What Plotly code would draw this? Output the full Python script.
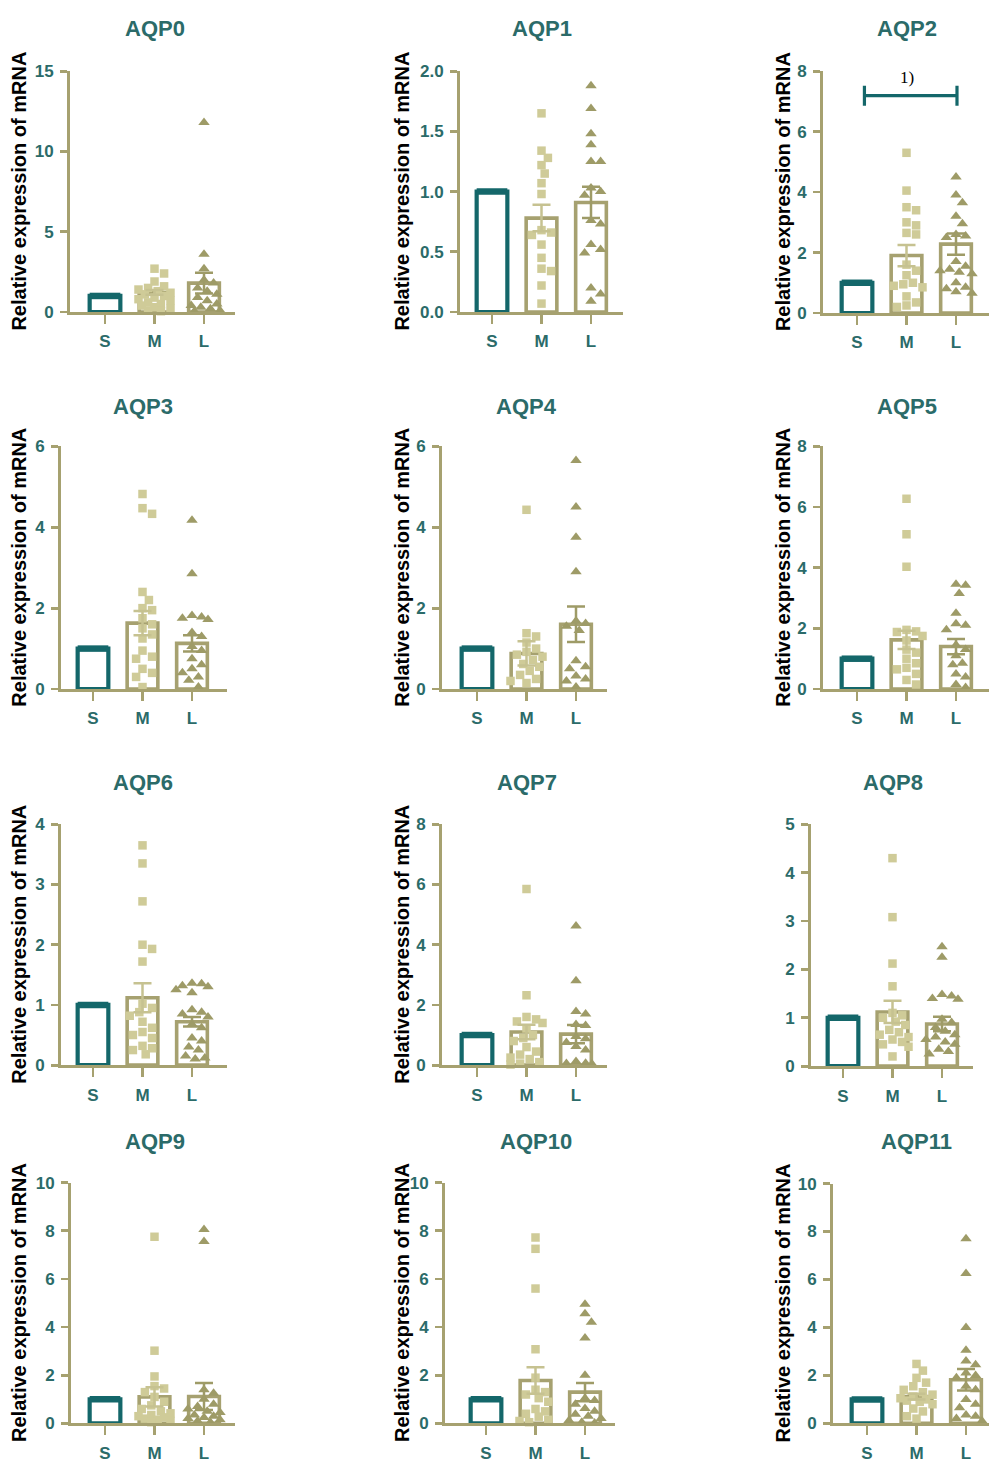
import plotly.graph_objects as go

# ---------------- data ----------------
genes = ["AQP0", "AQP1", "AQP2", "AQP3", "AQP4", "AQP5",
         "AQP6", "AQP7", "AQP8", "AQP9", "AQP10", "AQP11"]
categories = ["S", "M", "L"]
y_max = [15, 2, 8, 6, 6, 8, 4, 8, 5, 10, 10, 10]
y_dtick = [5, 0.5, 2, 2, 2, 2, 1, 2, 1, 2, 2, 2]
y_tickformat = ["d", ".1f", "d", "d", "d", "d", "d", "d", "d", "d", "d", "d"]
show_ytitle = [True, True, True, True, True, True, True, True, False, True, True, True]

s_mean = [1.0, 1.0, 1.0, 1.0, 1.0, 1.0, 1.0, 1.0, 1.0, 1.0, 1.0, 1.0]
m_mean = [1.22, 0.78, 1.9, 1.63, 0.88, 1.62, 1.12, 1.1, 1.12, 1.1, 1.78, 1.12]
m_sem = [0.15, 0.11, 0.35, 0.3, 0.3, 0.3, 0.24, 0.24, 0.23, 0.4, 0.55, 0.12]
l_mean = [1.8, 0.91, 2.28, 1.13, 1.6, 1.4, 0.72, 1.03, 0.87, 1.12, 1.3, 1.82]
l_sem = [0.65, 0.13, 0.35, 0.2, 0.44, 0.25, 0.08, 0.3, 0.15, 0.56, 0.38, 0.45]

aqp0_m = [2.7, 2.4, 1.9, 1.6, 1.5, 1.4, 1.3, 1.2, 1.1, 1.0, 0.9, 0.8, 0.7, 0.6, 0.5, 0.4, 0.3, 0.2, 0.1, 0.05]
aqp0_l = [11.8, 3.6, 2.7, 2.0, 1.8, 1.5, 1.3, 1.1, 0.9, 0.7, 0.5, 0.4, 0.3, 0.2, 0.1, 0.05]
aqp1_m = [1.65, 1.34, 1.28, 1.22, 1.15, 1.07, 0.98, 0.68, 0.66, 0.64, 0.56, 0.45, 0.36, 0.34, 0.22, 0.07]
aqp1_l = [1.88, 1.69, 1.48, 1.39, 1.25, 1.25, 1.03, 1.0, 0.97, 0.76, 0.73, 0.56, 0.52, 0.49, 0.2, 0.15, 0.09]
aqp2_m = [5.3, 4.05, 3.5, 3.4, 3.0, 2.9, 2.65, 2.6, 1.6, 1.4, 1.25, 1.0, 0.95, 0.9, 0.85, 0.55, 0.35, 0.25, 0.2]
aqp2_l = [4.5, 3.9, 3.65, 3.2, 2.95, 2.6, 2.55, 2.5, 1.7, 1.55, 1.45, 1.4, 1.35, 1.3, 1.0, 0.85, 0.8, 0.7, 0.65]
aqp3_m = [4.82, 4.47, 4.33, 2.4, 2.2, 2.0, 1.95, 1.75, 1.6, 1.5, 1.35, 1.25, 0.95, 0.8, 0.75, 0.5, 0.4, 0.3, 0.05]
aqp3_l = [4.17, 2.85, 1.82, 1.78, 1.75, 1.72, 1.4, 1.3, 1.05, 0.95, 0.75, 0.6, 0.5, 0.4, 0.3, 0.22, 0.05]
aqp4_m = [4.43, 1.38, 1.3, 1.15, 1.0, 0.92, 0.85, 0.8, 0.72, 0.62, 0.55, 0.45, 0.35, 0.25, 0.2, 0.15]
aqp4_l = [5.65, 4.5, 3.75, 2.9, 1.68, 1.62, 1.55, 1.45, 0.7, 0.55, 0.5, 0.32, 0.25, 0.2, 0.05]
aqp5_m = [6.27, 5.1, 4.03, 1.95, 1.9, 1.88, 1.75, 1.6, 1.3, 1.2, 1.0, 0.85, 0.7, 0.65, 0.5, 0.3, 0.15]
aqp5_l = [3.45, 3.42, 3.15, 2.5, 2.15, 2.1, 1.95, 1.45, 1.3, 1.1, 0.85, 0.8, 0.5, 0.4, 0.15, 0.05]
aqp6_m = [3.65, 3.35, 2.72, 2.0, 1.93, 1.72, 1.02, 0.95, 0.88, 0.82, 0.72, 0.62, 0.55, 0.5, 0.45, 0.32, 0.28, 0.25, 0.18]
aqp6_l = [1.36, 1.35, 1.32, 1.3, 1.25, 1.2, 0.92, 0.88, 0.85, 0.8, 0.68, 0.62, 0.45, 0.4, 0.3, 0.25, 0.15, 0.12, 0.1]
aqp7_m = [5.85, 2.32, 1.6, 1.52, 1.45, 1.4, 1.22, 1.0, 0.9, 0.8, 0.6, 0.45, 0.35, 0.25, 0.2, 0.1, 0.05, 0.02]
aqp7_l = [4.62, 2.8, 1.78, 1.7, 1.35, 1.32, 0.95, 0.88, 0.75, 0.62, 0.5, 0.12, 0.06, 0.05, 0.04]
aqp8_m = [4.3, 3.08, 2.12, 1.65, 1.1, 1.05, 1.0, 0.92, 0.85, 0.75, 0.7, 0.65, 0.6, 0.55, 0.5, 0.45, 0.4, 0.2]
aqp8_l = [2.47, 2.25, 1.48, 1.45, 1.4, 1.38, 0.97, 0.9, 0.8, 0.72, 0.65, 0.6, 0.55, 0.5, 0.45, 0.35, 0.3, 0.25]
aqp9_m = [7.75, 3.02, 1.95, 1.55, 1.45, 1.3, 1.1, 0.9, 0.75, 0.6, 0.5, 0.42, 0.35, 0.3, 0.25, 0.2, 0.15, 0.1, 0.05]
aqp9_l = [8.05, 7.55, 1.4, 1.25, 1.0, 0.8, 0.7, 0.6, 0.5, 0.45, 0.35, 0.3, 0.25, 0.2, 0.15, 0.1, 0.05]
aqp10_m = [7.72, 7.25, 5.6, 3.08, 1.9, 1.4, 1.3, 1.2, 1.05, 0.9, 0.6, 0.5, 0.4, 0.28, 0.15, 0.1, 0.05]
aqp10_l = [4.95, 4.55, 4.2, 3.55, 2.0, 1.05, 0.95, 0.8, 0.62, 0.5, 0.38, 0.3, 0.2, 0.12, 0.05, 0.02]
aqp11_m = [2.48, 2.2, 1.9, 1.7, 1.55, 1.4, 1.3, 1.2, 1.12, 1.05, 1.0, 0.95, 0.9, 0.8, 0.62, 0.5, 0.3, 0.2]
aqp11_l = [7.7, 6.25, 4.0, 3.05, 2.6, 2.45, 2.1, 2.0, 1.9, 1.55, 1.4, 1.0, 0.8, 0.65, 0.35, 0.3, 0.2, 0.1]

m_points = [aqp0_m, aqp1_m, aqp2_m, aqp3_m, aqp4_m, aqp5_m, aqp6_m, aqp7_m, aqp8_m, aqp9_m, aqp10_m, aqp11_m]
l_points = [aqp0_l, aqp1_l, aqp2_l, aqp3_l, aqp4_l, aqp5_l, aqp6_l, aqp7_l, aqp8_l, aqp9_l, aqp10_l, aqp11_l]

# significance bracket on AQP2 (S vs L)
sig_panel = 2
sig_from = 0.15
sig_to = 2.02
sig_level = 7.19
sig_cap = 0.33
sig_label = "1)"
sig_label_y = 7.8

# ---------------- layout (pixels) ----------------
W, H = 989, 1465
ax_x0 = [70, 460, 823, 61, 442, 823, 61, 442, 811, 71, 445, 833]
ax_x1 = [235, 623, 989, 227, 607, 989, 227, 607, 973, 235, 615, 989]
cat_s = [105, 492, 857, 93, 477, 857, 93, 477, 843, 105, 486, 867]
ax_top = [63, 63, 63, 443, 443, 443, 826, 826, 826, 1189, 1189, 1190]
ax_zero = [307, 307, 308, 689, 689, 689, 1070, 1070, 1071, 1433, 1433, 1433]
title_y = [20, 20, 20, 403, 403, 403, 784, 784, 784, 1147, 1147, 1147]
ytitle_x = [19, 402, 783, 19, 402, 783, 19, 402, 783, 19, 402, 783]
cat_px = 49.5

TEAL = "#14676a"
TEXT_TEAL = "#2b6b69"
OLIVE = "#a6a170"
M_COL = "#cfcb98"
L_COL = "#9e9b67"
M_ERR = "#c6c291"
L_ERR = "#9e9b67"
FONT = "Liberation Sans, Arial, sans-serif"
BAR_W = 0.62


def swarm(values, py_unit, diam, step=3.2, max_off=16.0):
    placed = []
    offs = []
    ks = [0]
    for k in range(1, 12):
        ks += [k, -k]
    for v in values:
        yp = v * py_unit
        chosen = None
        best_d, best_x = -1, 0.0
        for k in ks:
            xo = k * step
            if abs(xo) > max_off:
                continue
            dmin = min([((xo - a) ** 2 + (yp - b) ** 2) ** 0.5 for a, b in placed] + [1e9])
            if dmin >= diam:
                chosen = xo
                break
            if dmin > best_d:
                best_d, best_x = dmin, xo
        if chosen is None:
            chosen = best_x
        placed.append((chosen, yp))
        offs.append(chosen / cat_px)
    return offs


fig = go.Figure()
layout_axes = {}
annotations = []
shapes = []

for i, g in enumerate(genes):
    n = i + 1
    xa = "x" if n == 1 else f"x{n}"
    ya = "y" if n == 1 else f"y{n}"
    xkey = "xaxis" if n == 1 else f"xaxis{n}"
    ykey = "yaxis" if n == 1 else f"yaxis{n}"

    plot_h = ax_zero[i] - ax_top[i]
    py_unit = plot_h / y_max[i]

    # bars
    fig.add_trace(go.Bar(
        x=[0, 1, 2], y=[s_mean[i], m_mean[i], l_mean[i]], width=BAR_W,
        marker=dict(color="white", line=dict(color=[TEAL, OLIVE, OLIVE], width=[4.2, 3.6, 3.6])),
        xaxis=xa, yaxis=ya, showlegend=False, hoverinfo="skip"))
    # thicker top edge of S bar
    fig.add_trace(go.Scatter(
        x=[-BAR_W / 2, BAR_W / 2], y=[s_mean[i], s_mean[i]], mode="lines",
        line=dict(color=TEAL, width=6.5), xaxis=xa, yaxis=ya,
        showlegend=False, hoverinfo="skip", cliponaxis=False))

    # points
    mo = swarm(m_points[i], py_unit, 9.0)
    lo = swarm(l_points[i], py_unit, 9.5)
    fig.add_trace(go.Scatter(
        x=[1 + o for o in mo], y=m_points[i], mode="markers",
        marker=dict(symbol="square", size=8.5, color=M_COL),
        xaxis=xa, yaxis=ya, showlegend=False, cliponaxis=False))
    fig.add_trace(go.Scatter(
        x=[2 + o for o in lo], y=l_points[i], mode="markers",
        marker=dict(symbol="triangle-up", size=10, color=L_COL),
        xaxis=xa, yaxis=ya, showlegend=False, cliponaxis=False))

    # error bars
    for xc, mu, se, col in ((1, m_mean[i], m_sem[i], M_ERR), (2, l_mean[i], l_sem[i], L_ERR)):
        fig.add_trace(go.Scatter(
            x=[xc], y=[mu], mode="markers", marker=dict(size=1, opacity=0),
            error_y=dict(type="data", array=[se], symmetric=True, color=col,
                         thickness=2.5, width=9),
            xaxis=xa, yaxis=ya, showlegend=False, hoverinfo="skip", cliponaxis=False))

    xr0 = (ax_x0[i] - cat_s[i]) / cat_px
    xr1 = (ax_x1[i] - cat_s[i]) / cat_px
    layout_axes[xkey] = dict(
        domain=[ax_x0[i] / W, ax_x1[i] / W], range=[xr0, xr1], anchor=ya,
        tickmode="array", tickvals=[0, 1, 2], ticktext=categories,
        ticks="outside", ticklen=9, tickwidth=2.8, tickcolor=OLIVE,
        showline=True, linecolor=OLIVE, linewidth=3, showgrid=False, zeroline=False,
        tickfont=dict(family=FONT, size=17, color=TEXT_TEAL, weight="bold"),
        ticklabelstandoff=3, fixedrange=True)
    layout_axes[ykey] = dict(
        domain=[1 - ax_zero[i] / H, 1 - ax_top[i] / H], range=[0, y_max[i]], anchor=xa,
        tick0=0, dtick=y_dtick[i], tickformat=y_tickformat[i],
        ticks="outside", ticklen=7, tickwidth=2.8, tickcolor=OLIVE,
        showline=True, linecolor=OLIVE, linewidth=3, showgrid=False, zeroline=False,
        tickfont=dict(family=FONT, size=17, color=TEXT_TEAL, weight="bold"),
        ticklabelstandoff=3, fixedrange=True)

    annotations.append(dict(
        text=g, xref=xa, x=1, yref="paper", y=1 - title_y[i] / H,
        xanchor="center", yanchor="middle", showarrow=False,
        font=dict(family=FONT, size=22, color=TEXT_TEAL, weight="bold")))
    if show_ytitle[i]:
        annotations.append(dict(
            text="Relative expression of mRNA", textangle=-90,
            xref="paper", x=ytitle_x[i] / W, yref="paper",
            y=1 - (ax_top[i] + ax_zero[i]) / 2 / H,
            xanchor="center", yanchor="middle", showarrow=False,
            font=dict(family=FONT, size=20, color="black", weight="bold")))

    if i == sig_panel:
        for (xs, ys, xe, ye) in (
            (sig_from, sig_level, sig_to, sig_level),
            (sig_from, sig_level - sig_cap, sig_from, sig_level + sig_cap),
            (sig_to, sig_level - sig_cap, sig_to, sig_level + sig_cap),
        ):
            shapes.append(dict(type="line", xref=xa, yref=ya, x0=xs, y0=ys, x1=xe, y1=ye,
                               line=dict(color=TEAL, width=3.2)))
        annotations.append(dict(
            text=sig_label, xref=xa, x=1, yref=ya, y=sig_label_y,
            xanchor="center", yanchor="middle", showarrow=False,
            font=dict(family="Liberation Serif, Times New Roman, serif", size=17, color="black")))

fig.update_layout(
    width=W, height=H, margin=dict(l=0, r=0, t=0, b=0),
    paper_bgcolor="white", plot_bgcolor="white", showlegend=False,
    annotations=annotations, shapes=shapes, bargap=0, **layout_axes)

fig.write_html(
    "out.html",
    config={"displayModeBar": False, "staticPlot": True},
    post_script=("document.documentElement.style.margin='0';"
                 "document.documentElement.style.padding='0';"
                 "document.documentElement.style.overflow='hidden';"
                 "document.body.style.margin='0';document.body.style.padding='0';"
                 "document.body.style.overflow='hidden';"
                 "var gd=document.getElementById('{plot_id}');"
                 "gd.style.position='fixed';gd.style.left='0px';gd.style.top='0px';"))
